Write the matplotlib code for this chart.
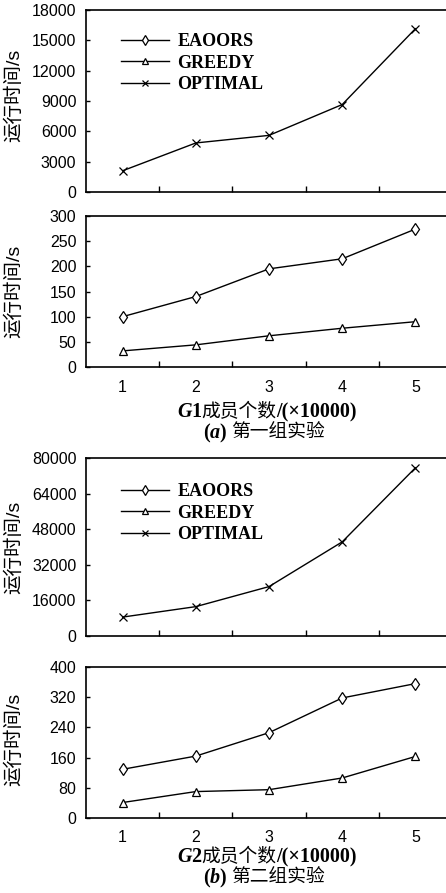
import matplotlib
matplotlib.use('Agg')
import matplotlib.pyplot as plt
from matplotlib.ticker import MultipleLocator, FixedLocator

plt.rcParams['font.family'] = ['Liberation Sans', 'Noto Sans CJK SC']

x = [1, 2, 3, 4, 5]

# group 1 (G1)
optimal_1 = [2100, 4850, 5600, 8650, 16150]
eaoors_1 = [100, 140, 195, 215, 274]
greedy_1 = [32, 44, 62, 77, 90]

# group 2 (G2)
optimal_2 = [8500, 13200, 22200, 42300, 75600]
eaoors_2 = [129, 164, 226, 318, 356]
greedy_2 = [41, 70, 75, 106, 163]

legend_labels = ['EAOORS', 'GREEDY', 'OPTIMAL']
ylabel = '运行时间/s'

W, H = 446, 893
fig = plt.figure(figsize=(W / 100, H / 100), dpi=100)


def px_axes(top, bottom, left=86, right=452):
    return fig.add_axes([left / W, 1 - bottom / H, (right - left) / W, (bottom - top) / H])


def style(ax, ymax, step, show_xlabels):
    ax.set_xlim(0.5, 5.5)
    ax.set_ylim(0, ymax)
    ax.yaxis.set_major_locator(MultipleLocator(step))
    ax.xaxis.set_major_locator(FixedLocator(x))
    ax.xaxis.set_minor_locator(FixedLocator([1.5, 2.5, 3.5, 4.5]))
    ax.tick_params(axis='x', which='major', length=0, pad=9, labelsize=11.5,
                   labelbottom=show_xlabels)
    ax.tick_params(axis='x', which='minor', direction='in', length=4, width=1)
    ax.tick_params(axis='y', direction='in', length=3, width=1, pad=7, labelsize=11.5)
    ax.spines['right'].set_visible(False)
    for s in ['left', 'top', 'bottom']:
        ax.spines[s].set_linewidth(1.2)


def series(ax, ys, marker, ms):
    line, = ax.plot(x, ys, color='black', linewidth=1, marker=marker, markersize=ms,
                    markerfacecolor='white', markeredgecolor='black', markeredgewidth=0.9)
    return line


def add_ylabel(ax, ycoord):
    ax.set_ylabel(ylabel, fontsize=14)
    ax.yaxis.set_label_coords((23 - 86) / 366, ycoord)


def add_legend(ax, handles, top_px, ax_top, ax_bottom):
    ax.legend(handles, legend_labels, loc='upper left', frameon=False,
              bbox_to_anchor=((119 - 86) / 366 - 0.02, 1 - (top_px - ax_top) / (ax_bottom - ax_top)),
              handlelength=2.7, handletextpad=0.45, labelspacing=0.25, borderpad=0,
              markerscale=0.8,
              prop={'family': 'Liberation Serif', 'weight': 'bold', 'size': 13})


def rich_text(ax, x_px, y_px, parts):
    t = ax.annotate(parts[0][0], xy=(x_px / W, 1 - y_px / H), xycoords='figure fraction',
                    ha='left', va='center', annotation_clip=False, **parts[0][1])
    for s, kw in parts[1:]:
        t = ax.annotate(s, xy=(1, 0), xycoords=t, ha='left', va='bottom',
                        annotation_clip=False, **kw)


serif_b = dict(family='Liberation Serif', weight='bold', size=14.5)
serif_bi = dict(family='Liberation Serif', weight='bold', style='italic', size=14.5)
cjk = dict(family='Noto Sans CJK SC', weight='normal', size=13.5)


def captions(ax, label_y, cap_y, g, tag, name):
    rich_text(ax, 177, label_y, [('G', serif_bi), (g, serif_b), ('成员个数', cjk),
                                 ('/(×10000)', serif_b)])
    rich_text(ax, 203, cap_y, [('(', serif_b), (tag, serif_bi), (') ', serif_b), (name, cjk)])


# ---- (a) ----
ax1 = px_axes(10, 192)
ax2 = px_axes(216, 367)
lo1 = series(ax1, optimal_1, 'x', 5.5)
le1 = series(ax2, eaoors_1, 'd', 6)
lg1 = series(ax2, greedy_1, '^', 6)
style(ax1, 18000, 3000, False)
style(ax2, 300, 50, True)
add_ylabel(ax1, 0.53)
add_ylabel(ax2, 0.5)
add_legend(ax1, [le1, lg1, lo1], 24, 10, 192)
captions(ax2, 412, 433, '1', 'a', '第一组实验')

# ---- (b) ----
ax3 = px_axes(458, 636)
ax4 = px_axes(667, 818)
lo2 = series(ax3, optimal_2, 'x', 5.5)
le2 = series(ax4, eaoors_2, 'd', 6)
lg2 = series(ax4, greedy_2, '^', 6)
style(ax3, 80000, 16000, False)
style(ax4, 400, 80, True)
add_ylabel(ax3, 0.5)
add_ylabel(ax4, 0.52)
add_legend(ax3, [le2, lg2, lo2], 474, 458, 636)
captions(ax4, 857, 878, '2', 'b', '第二组实验')

fig.savefig('out.png', dpi=100)
